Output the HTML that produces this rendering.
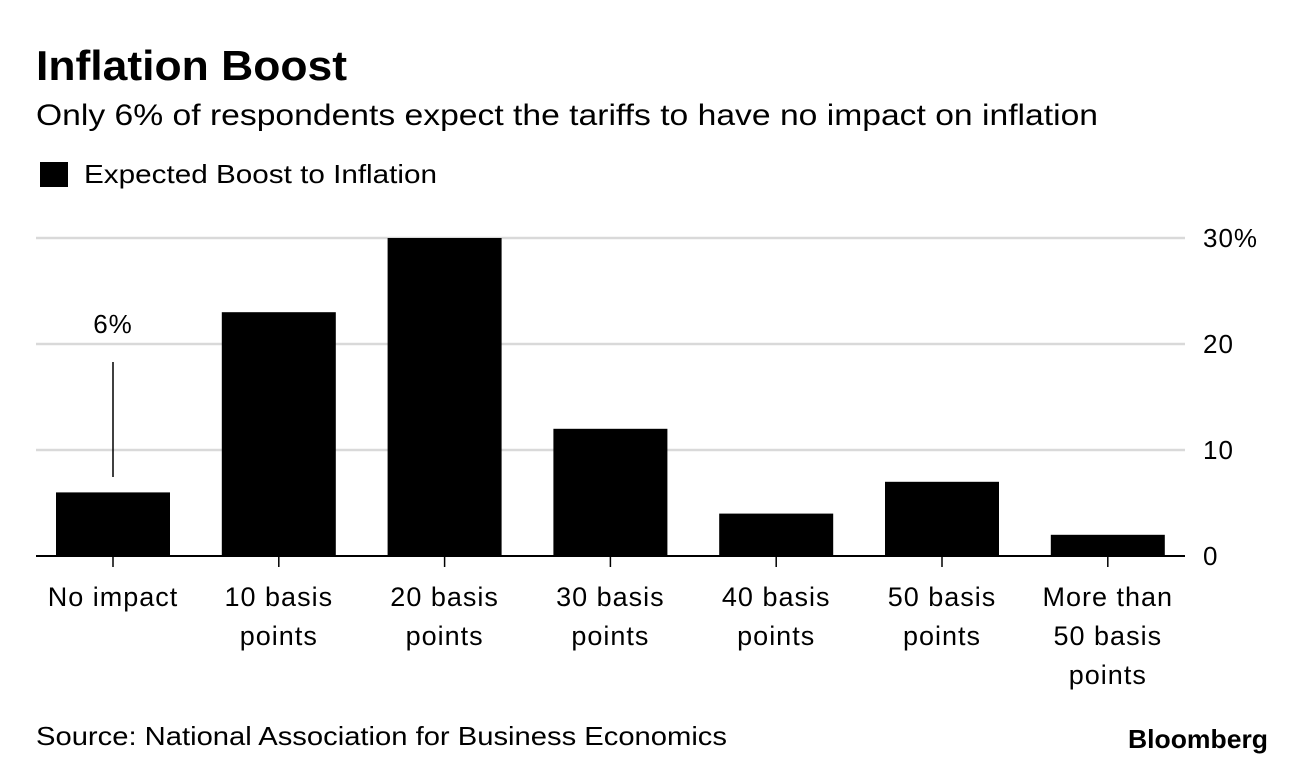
<!DOCTYPE html>
<html><head><meta charset="utf-8">
<style>
body{margin:0;background:#fff;width:1296px;height:768px;overflow:hidden;font-family:"Liberation Sans",Arial,sans-serif;}
svg text{font-family:"Liberation Sans",Arial,sans-serif;}
</style></head>
<body>
<svg id="chart" width="1296" height="768" xmlns="http://www.w3.org/2000/svg">
<text x="36" y="80" font-size="42" font-weight="bold" fill="#000" textLength="311" lengthAdjust="spacingAndGlyphs">Inflation Boost</text>
<text x="36" y="125" font-size="30" fill="#000" textLength="1062" lengthAdjust="spacingAndGlyphs">Only 6% of respondents expect the tariffs to have no impact on inflation</text>
<rect x="40" y="162" width="28" height="25" fill="#000"/>
<text x="84" y="183" font-size="26" fill="#000" textLength="353" lengthAdjust="spacingAndGlyphs">Expected Boost to Inflation</text>
<g id="grid"></g>
<g id="bars"></g>
<g id="labels"></g>
<line x1="113" y1="362" x2="113" y2="477" stroke="#000" stroke-width="1.5"/>
<text x="113" y="333" font-size="26" text-anchor="middle" fill="#000" letter-spacing="1">6%</text>
<text x="36" y="745" font-size="26" fill="#000" textLength="691" lengthAdjust="spacingAndGlyphs">Source: National Association for Business Economics</text>
<text x="1128" y="748" font-size="26" font-weight="bold" fill="#000" textLength="140" lengthAdjust="spacingAndGlyphs">Bloomberg</text>
</svg>
<script>
const categories=[["No impact"],["10 basis","points"],["20 basis","points"],["30 basis","points"],["40 basis","points"],["50 basis","points"],["More than","50 basis","points"]];
const values=[6,23,30,12,4,7,2];
const ticks=[0,10,20,30];
const tickLabels=["0","10","20","30%"];
const NS="http://www.w3.org/2000/svg";
const y0=556,yScale=v=>y0-v*(318/30);
const xCenter=i=>113+i*165.8;
const bw=114;
function mk(tag,attrs,parent){const e=document.createElementNS(NS,tag);for(const k in attrs)e.setAttribute(k,attrs[k]);parent.appendChild(e);return e;}
const grid=document.getElementById('grid'),bars=document.getElementById('bars'),labels=document.getElementById('labels');
ticks.forEach((t,i)=>{
  const l=mk('line',{x1:36,x2:1185,y1:yScale(t),y2:yScale(t),stroke:t===0?'#000':'#d9d9d9','stroke-width':t===0?2:2.5},grid);
  
  
  const tx=mk('text',{x:1203,y:yScale(t)+9,'font-size':26,fill:'#000','letter-spacing':1},grid);
  tx.textContent=tickLabels[i];
  
  
});
values.forEach((v,i)=>{
  const r=mk('rect',{x:xCenter(i)-bw/2,y:yScale(v),width:bw,height:y0-yScale(v),fill:'#000'},bars);
  
  
  const tk=mk('line',{x1:xCenter(i),x2:xCenter(i),y1:y0,y2:y0+11,stroke:'#000','stroke-width':1.5},bars);
  
  
  categories[i].forEach((s,j)=>{
    const t=mk('text',{x:xCenter(i),y:606+j*39,'font-size':27,'text-anchor':'middle',fill:'#000','letter-spacing':1},labels);
    t.textContent=s;
    
    
  });
});
</script>
</body></html>
